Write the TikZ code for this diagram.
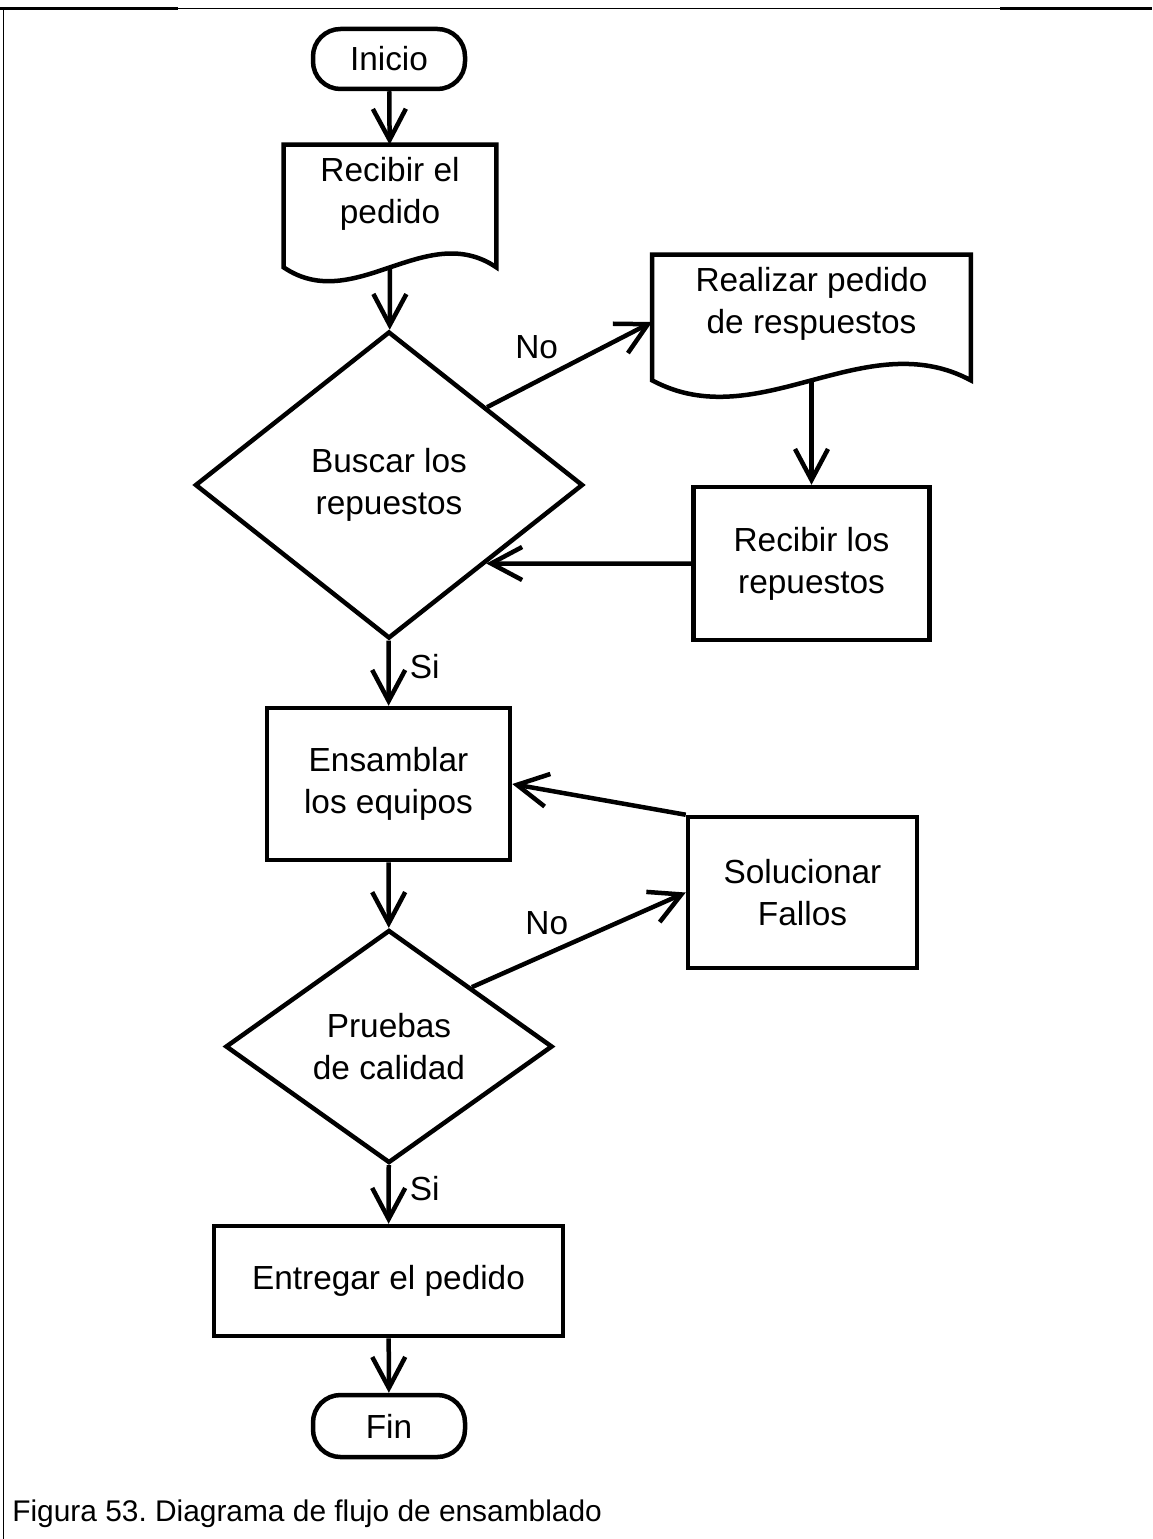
\documentclass[tikz,border=0pt]{standalone}
\usepackage{fontspec}
\setmainfont{Liberation Sans}
\usetikzlibrary{arrows.meta,calc,shapes.geometric}
\frenchspacing

% outline of a document symbol around a (borderless) node
\newcommand{\docborder}[4]{%
  \draw[flow] (#1.north west) -- ([yshift=-#2]#1.south west)
    .. controls +(#3,-#4) and +(-#3,#4) .. ([yshift=-#2]#1.south east)
    -- (#1.north east) -- cycle;}

\begin{document}
\begin{tikzpicture}[>={Straight Barb[length=0.62cm,width=0.66cm]},
  flow/.style={line width=0.09cm},
  txt/.style={font=\fontsize{19}{24}\selectfont, align=center, inner sep=0pt},
  term/.style={txt, flow, draw, rounded corners=0.55cm, minimum width=3.04cm},
  box/.style={txt, flow, draw, rectangle},
  doc/.style={txt, rectangle, minimum height=1.96cm},
  decision/.style={txt, flow, draw, diamond},
  lbl/.style={font=\fontsize{19}{24}\selectfont, inner sep=0pt}]
  \useasboundingbox (0,0) rectangle (23.04,-30.78);

  % page frame
  \draw[line width=0.06cm] (0,-0.17) -- (3.56,-0.17);
  \draw[line width=0.03cm] (3.56,-0.17) -- (20,-0.17);
  \draw[line width=0.06cm] (20,-0.17) -- (23.04,-0.17);
  \draw[line width=0.03cm] (0.07,-0.17) -- (0.07,-30.78);

  % main column
  \node[term, minimum height=1.2cm] (ini) at (7.78,-1.18) {Inicio};
  \node[doc, minimum width=4.24cm] (pedido) at (7.8,-3.88) {Recibir el\\pedido};
  \docborder{pedido}{0.48cm}{1.41}{0.96}
  \node[decision, minimum width=7.76cm, minimum height=6.14cm] (buscar) at (7.78,-9.7) {Buscar los\\repuestos};
  \node[box, minimum width=4.86cm, minimum height=3.04cm] (ensamblar) at (7.77,-15.68) {Ensamblar\\los equipos};
  \node[decision, minimum width=6.54cm, minimum height=4.66cm] (pruebas) at (7.78,-20.93) {Pruebas\\de calidad};
  \node[box, minimum width=6.98cm, minimum height=2.2cm] (entregar) at (7.77,-25.62) {Entregar el pedido};
  \node[term, minimum height=1.24cm] (fin) at (7.78,-28.52) {Fin};

  % side branches
  \node[doc, minimum width=6.36cm] (pedrep) at (16.23,-6.08) {Realizar pedido\\de respuestos};
  \docborder{pedrep}{0.54cm}{2.12}{1.14}
  \node[box, minimum width=4.72cm, minimum height=3.06cm] (recrep) at (16.23,-11.27) {Recibir los\\repuestos};
  \node[box, minimum width=4.58cm, minimum height=3.02cm] (solucionar) at (16.05,-17.85) {Solucionar\\Fallos};

  \draw[flow,->] (ini) -- (pedido);
  \draw[flow,->] ([yshift=-0.48cm]pedido.south) -- (buscar);
  \draw[flow,->] (buscar.north east) -- node[lbl,pos=0.3,yshift=0.69cm] {No} ([yshift=-0.36cm]pedrep.west);
  \draw[flow,->] ([yshift=-0.54cm]pedrep.south) -- (recrep.north);
  \draw[flow,->] (recrep.west) -- ($(buscar.east)!0.504!(buscar.south)$);
  \draw[flow,->] (buscar) -- node[lbl,pos=0.4,xshift=0.72cm] {Si} (ensamblar);
  \draw[flow,->] (ensamblar) -- (pruebas);
  \draw[flow,->] (pruebas.north east) -- node[lbl,pos=0.35,yshift=0.61cm] {No} (solucionar.west);
  \draw[flow,->] (solucionar.north west) -- (ensamblar.east);
  \draw[flow,->] (pruebas) -- node[lbl,pos=0.4,xshift=0.72cm] {Si} (entregar);
  \draw[flow,->] (entregar) -- (fin);

  \node[anchor=base west, font=\fontsize{17}{20}\selectfont, inner sep=0pt] (caption) at (0.24,-30.42)
    {Figura 53. Diagrama de flujo de ensamblado};
\end{tikzpicture}
\end{document}
